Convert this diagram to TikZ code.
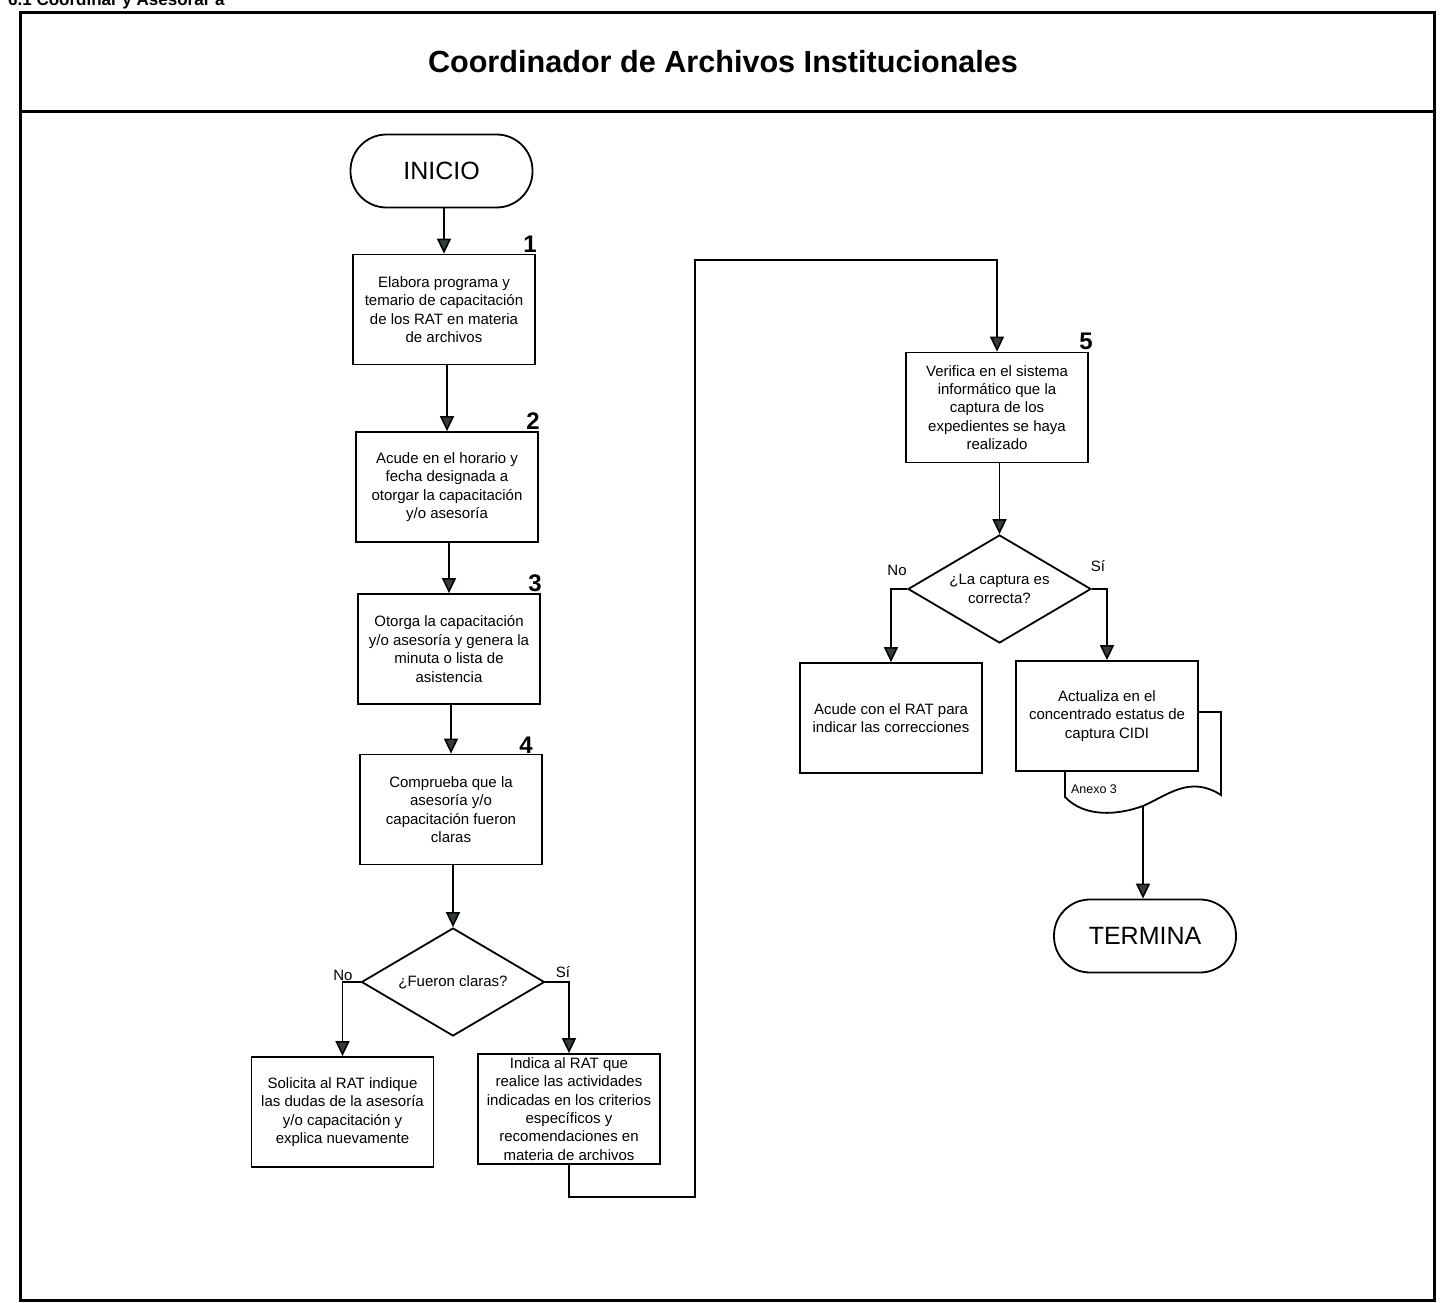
\documentclass[tikz,border=0pt]{standalone}
\usepackage{fontspec}
\setmainfont{Liberation Sans}
\usetikzlibrary{arrows.meta,shapes.geometric}
\definecolor{tipgray}{HTML}{343C3C}
\begin{document}
\begin{tikzpicture}[x=1pt,y=-1pt,
  every node/.style={font=\fontsize{15}{18.4}\selectfont, align=center, inner sep=0pt},
  procbox/.style={draw, line width=1.8pt, fill=white, minimum width=182pt, minimum height=110pt},
  terminal/.style={draw, line width=1.8pt, fill=white, rounded corners=36pt,
    minimum width=182pt, minimum height=73pt, font=\fontsize{25}{30}\selectfont},
  decision/.style={draw, line width=1.8pt, fill=white, diamond, aspect=1.69,
    minimum width=183pt, minimum height=108pt},
  stepnum/.style={font=\fontsize{24}{28}\selectfont\bfseries},
  branch/.style={font=\fontsize{15}{18}\selectfont},
  link/.style={line width=1.6pt},
  arr/.style={link, -{Triangle[width=14pt,length=15pt,fill=tipgray]}}]

\useasboundingbox (0,0) rectangle (1440,1303);

% heading line above the frame (cut by the page edge)
\node[font=\fontsize{17}{20}\selectfont\bfseries, anchor=base west] (heading) at (8,6) {6.1 Coordinar y Asesorar a};

% frame and title band
\draw[line width=3pt] (20,13) rectangle (1434,1300);
\draw[line width=3pt] (20,112) -- (1434,112);
\node[font=\fontsize{30.6}{34}\selectfont\bfseries] (title) at (723,62) {Coordinador de Archivos Institucionales};

% left column
\node[terminal] (inicio) at (441.5,171) {INICIO};
\node[procbox] (b1) at (444,309.5) {Elabora programa y\\temario de capacitación\\de los RAT en materia\\de archivos};
\node[procbox] (b2) at (447,487) {Acude en el horario y\\fecha designada a\\otorgar la capacitación\\y/o asesoría};
\node[procbox] (b3) at (449,649) {Otorga la capacitación\\y/o asesoría y genera la\\minuta o lista de\\asistencia};
\node[procbox] (b4) at (451,809.5) {Comprueba que la\\asesoría y/o\\capacitación fueron\\claras};
\node[decision] (d1) at (453,982) {¿Fueron claras?};
\node[procbox] (sol) at (342.5,1112) {Solicita al RAT indique\\las dudas de la asesoría\\y/o capacitación y\\explica nuevamente};
\node[procbox] (ind) at (569,1109) {Indica al RAT que\\realice las actividades\\indicadas en los criterios\\específicos y\\recomendaciones en\\materia de archivos};

\node[stepnum] (n1) at (530,244) {1};
\node[stepnum] (n2) at (533,421) {2};
\node[stepnum] (n3) at (535,583) {3};
\node[stepnum] (n4) at (526,745) {4};

\node[branch] (no1) at (343,975) {No};
\node[branch] (si1) at (563,972) {Sí};

% right column
\node[procbox] (b5) at (997,407.5) {Verifica en el sistema\\informático que la\\captura de los\\expedientes se haya\\realizado};
\node[stepnum] (n5) at (1086,341) {5};
\node[decision] (d2) at (999.5,589) {¿La captura es\\correcta?};
\node[branch] (no2) at (897,570) {No};
\node[branch] (si2) at (1098,566) {Sí};
\node[procbox] (acu) at (891,718) {Acude con el RAT para\\indicar las correcciones};

% document symbol behind the update step
\draw[line width=1.8pt, fill=white] (1065,771) -- (1065,712) -- (1221,712) -- (1221,795)
  .. controls (1190,775) and (1168,795) .. (1143,806)
  .. controls (1118,815) and (1085,818) .. (1065,797) -- cycle;
\node[procbox] (act) at (1107,716) {Actualiza en el\\concentrado estatus de\\captura CIDI};
\node[font=\fontsize{12.5}{15}\selectfont] (anexo) at (1094,789) {Anexo 3};
\coordinate (docout) at (1143,806);

\node[terminal] (termina) at (1145,936) {TERMINA};

% connectors
\draw[arr] (b1.north |- inicio.south) -- (b1.north);
\draw[arr] (b2.north |- b1.south) -- (b2.north);
\draw[arr] (b3.north |- b2.south) -- (b3.north);
\draw[arr] (b4.north |- b3.south) -- (b4.north);
\draw[arr] (d1.north |- b4.south) -- (d1.north);
\draw[arr] (d1.west) -| (sol.north);
\draw[arr] (d1.east) -| (ind.north);

\coordinate (loopbot) at (695,1197);
\coordinate (looptop) at (695,260);
\draw[arr] (ind.south) |- (loopbot) -- (looptop) -| (b5.north);

\draw[arr] (d2.north |- b5.south) -- (d2.north);
\draw[arr] (d2.west) -| (acu.north);
\draw[arr] (d2.east) -| (act.north);
\draw[arr] (docout) -- (docout |- termina.north);

\end{tikzpicture}
\end{document}
